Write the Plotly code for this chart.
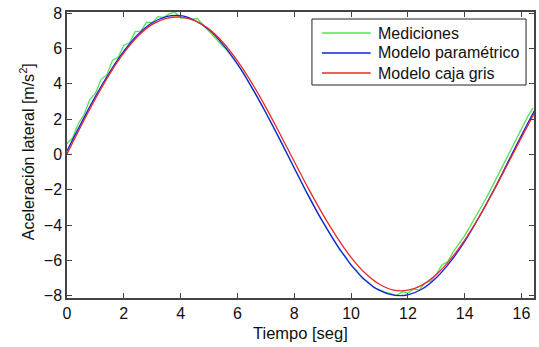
import plotly.graph_objects as go

# Time grids (s)
t_model = [0.0, 0.5, 1.0, 1.5, 2.0, 2.5, 3.0, 3.5, 4.0, 4.5, 5.0, 5.5, 6.0, 6.5, 7.0, 7.5,
           8.0, 8.5, 9.0, 9.5, 10.0, 10.5, 11.0, 11.5, 12.0, 12.5, 13.0, 13.5, 14.0, 14.5,
           15.0, 15.5, 16.0, 16.5]

modelo_parametrico = [0.20, 1.77, 3.28, 4.65, 5.84, 6.79, 7.45, 7.80, 7.85, 7.58, 7.05, 6.20,
                      5.11, 3.81, 2.36, 0.82, -0.77, -2.35, -3.81, -5.12, -6.25, -7.12, -7.70,
                      -7.97, -7.95, -7.62, -6.98, -6.07, -4.93, -3.57, -2.09, -0.51, 1.08, 2.62]

modelo_caja_gris = [0.02, 1.62, 3.15, 4.54, 5.74, 6.70, 7.36, 7.70, 7.77, 7.57, 7.09, 6.32,
                    5.29, 4.06, 2.66, 1.15, -0.40, -1.94, -3.38, -4.68, -5.83, -6.73, -7.35,
                    -7.68, -7.69, -7.40, -6.80, -5.94, -4.85, -3.56, -2.12, -0.59, 0.96, 2.47]

t_med = [round(0.2 * i, 1) for i in range(83)]

mediciones = [0.60, 0.95, 1.75, 2.25, 3.10, 3.45, 4.25, 4.50, 5.32, 5.50,
              6.18, 6.32, 6.95, 6.98, 7.48, 7.45, 7.80, 7.76, 7.95, 8.05,
              7.72, 7.75, 7.66, 7.68, 7.30, 6.95, 6.58, 6.28, 5.95, 5.55,
              5.12, 4.66, 4.10, 3.54, 2.98, 2.36, 1.74, 1.14, 0.48, -0.12,
              -0.80, -1.38, -2.05, -2.60, -3.25, -3.78, -4.38, -4.84, -5.40, -5.76,
              -6.28, -6.58, -7.02, -7.22, -7.55, -7.65, -7.80, -7.88, -8.00, -7.78,
              -7.85, -7.62, -7.68, -7.28, -7.18, -6.80, -6.25, -6.08, -5.50, -5.05,
              -4.60, -4.05, -3.52, -2.92, -2.35, -1.72, -1.10, -0.45, 0.15, 0.85,
              1.40, 2.08, 2.62]

x_ticks = [0, 2, 4, 6, 8, 10, 12, 14, 16]
y_ticks = [-8, -6, -4, -2, 0, 2, 4, 6, 8]

series_names = ["Mediciones", "Modelo paramétrico", "Modelo caja gris"]
series_colors = ["rgb(80,228,80)", "rgb(20,30,235)", "rgb(235,40,40)"]

FONT = "Liberation Sans, Arial, Helvetica, sans-serif"

fig = go.Figure()
fig.add_trace(go.Scatter(x=t_med, y=mediciones, mode="lines", name=series_names[0],
                         line=dict(color=series_colors[0], width=1.3)))
fig.add_trace(go.Scatter(x=t_model, y=modelo_parametrico, mode="lines", name=series_names[1],
                         line=dict(color=series_colors[1], width=1.3, shape="spline")))
fig.add_trace(go.Scatter(x=t_model, y=modelo_caja_gris, mode="lines", name=series_names[2],
                         line=dict(color=series_colors[2], width=1.3, shape="spline")))

axis_common = dict(showgrid=False, zeroline=False, showline=True, mirror="allticks",
                   linecolor="#444", linewidth=1.5, ticks="inside", ticklen=5,
                   tickcolor="#444", tickwidth=1,
                   tickfont=dict(family=FONT, size=16, color="#111"))

fig.update_xaxes(range=[0, 16.44], tickvals=x_ticks, **axis_common)
fig.update_yaxes(range=[-8.13, 8.06], tickvals=y_ticks, **axis_common)

# plot area in pixels: x 67..536, y 12..298
L, R, T, B = 67, 536, 12, 298
def px(x):
    return (x - L) / (R - L)
def py(y):
    return (B - y) / (B - T)

shapes = [dict(type="rect", xref="paper", yref="paper",
               x0=px(313), x1=px(528), y0=py(85), y1=py(19),
               line=dict(color="#222", width=1), fillcolor="white", layer="above")]
annotations = [
    dict(text="Tiempo [seg]", xref="paper", yref="paper", x=0.5, y=py(333),
         xanchor="center", yanchor="middle", showarrow=False,
         font=dict(family=FONT, size=16.5, color="#111")),
    dict(text="Aceleración lateral [m/s<sup>2</sup>]", xref="paper", yref="paper",
         x=px(27), y=py(152), textangle=-90, xanchor="center", yanchor="middle",
         showarrow=False, font=dict(family=FONT, size=16, color="#111")),
]
for i, (name, col) in enumerate(zip(series_names, series_colors)):
    yrow = 33 + 20 * i
    shapes.append(dict(type="line", xref="paper", yref="paper",
                       x0=px(323), x1=px(372), y0=py(yrow), y1=py(yrow),
                       line=dict(color=col, width=1.3), layer="above"))
    annotations.append(dict(text=name, xref="paper", yref="paper", x=px(377), y=py(yrow),
                            xanchor="left", yanchor="middle", showarrow=False,
                            font=dict(family=FONT, size=16, color="#111")))

fig.update_layout(
    width=539, height=347,
    margin=dict(l=L, r=539 - R, t=T, b=347 - B),
    paper_bgcolor="white", plot_bgcolor="white",
    font=dict(family=FONT, size=15, color="#111"),
    showlegend=False,
    shapes=shapes, annotations=annotations,
)

fig.write_html("out.html", config={"displayModeBar": False},
               post_script="document.body.style.margin='0';document.body.style.overflow='hidden';")
